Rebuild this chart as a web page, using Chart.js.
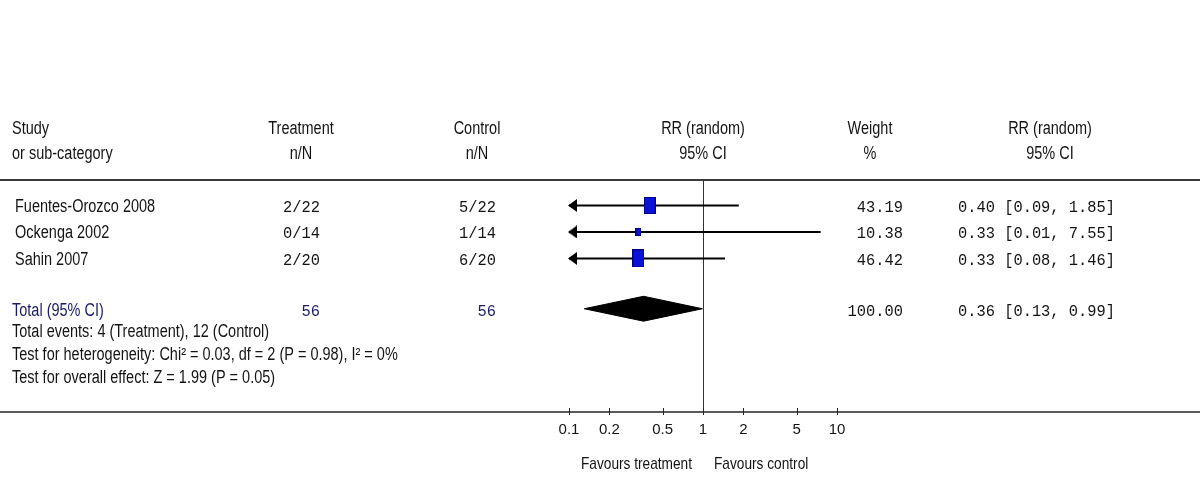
<!DOCTYPE html>
<html><head><meta charset="utf-8">
<script src="https://cdn.jsdelivr.net/npm/chart.js@4.4.0/dist/chart.umd.min.js"></script>
<style>html,body{margin:0;padding:0;background:#fff;}canvas{display:block;}</style>
</head><body>
<canvas id="c" width="1203" height="480"></canvas>
<script>
// ---------- data ----------
const studies = ['Fuentes-Orozco 2008', 'Ockenga 2002', 'Sahin 2007'];
const treatmentNN = ['2/22', '0/14', '2/20'];
const controlNN = ['5/22', '1/14', '6/20'];
const weights = [43.19, 10.38, 46.42];
const rr = [0.40, 0.33, 0.33];
const ciLow = [0.09, 0.01, 0.08];
const ciHigh = [1.85, 7.55, 1.46];
const totalLabel = 'Total (95% CI)';
const totalTreatment = '56';
const totalControl = '56';
const totalWeight = 100.00;
const totalRR = [0.36, 0.13, 0.99];   // estimate, lower, upper
const footnotes = [
  'Total events: 4 (Treatment), 12 (Control)',
  'Test for heterogeneity: Chi\u00B2 = 0.03, df = 2 (P = 0.98), I\u00B2 = 0%',
  'Test for overall effect: Z = 1.99 (P = 0.05)'
];
const headerTop = ['Study', 'Treatment', 'Control', 'RR (random)', 'Weight', 'RR (random)'];
const headerBottom = ['or sub-category', 'n/N', 'n/N', '95% CI', '%', '95% CI'];
const tickValues = [0.1, 0.2, 0.5, 1, 2, 5, 10];
const tickLabels = ['0.1', '0.2', '0.5', '1', '2', '5', '10'];
const favours = ['Favours treatment', 'Favours control'];

// ---------- layout / style ----------
const X_MIN = 0.1, X_MAX = 10;
const TOTAL_ROW = 4.9;
const DIAMOND_HALF = 0.47;
const SANS = '"Liberation Sans", Arial, sans-serif';
const MONO = '"Liberation Mono", "Courier New", monospace';
const TXT = '#141414';
const NAVY = '#1c1c66';

function fmt2(v) { return v.toFixed(2); }
function ciText(e, l, h) { return fmt2(e) + ' [' + fmt2(l) + ', ' + fmt2(h) + ']'; }

function boxImage(w) {
  const c = document.createElement('canvas');
  const bw = Math.max(4, Math.round(1.8 * Math.sqrt(w)));
  const bh = Math.max(6, Math.round(2.6 * Math.sqrt(w)));
  c.width = bw; c.height = bh;
  const g = c.getContext('2d');
  g.fillStyle = '#0b12d6';
  g.fillRect(0, 0, bw, bh);
  g.strokeStyle = '#00008a';
  g.lineWidth = 1;
  g.strokeRect(0.5, 0.5, bw - 1, bh - 1);
  return c;
}
function arrowImage() {
  const L = 10, H = 13;
  const c = document.createElement('canvas');
  c.width = 2 * L; c.height = H;
  const g = c.getContext('2d');
  g.fillStyle = '#000';
  g.beginPath();
  g.moveTo(L - 1, H / 2);
  g.lineTo(L + 8, 0);
  g.lineTo(L + 8, H);
  g.closePath();
  g.fill();
  return c;
}
const arrowImg = arrowImage();

const datasets = [];
// boxes (drawn on top)
datasets.push({
  type: 'scatter',
  data: rr.map((v, i) => ({ x: v, y: i + 1 })),
  pointStyle: weights.map(w => boxImage(w)),
  pointRadius: 5,
  order: 0,
  clip: false
});
// confidence interval lines
studies.forEach((s, i) => {
  const clippedLow = ciLow[i] < X_MIN;
  datasets.push({
    type: 'scatter',
    showLine: true,
    data: [{ x: Math.max(ciLow[i], X_MIN), y: i + 1 }, { x: Math.min(ciHigh[i], X_MAX), y: i + 1 }],
    borderColor: '#000',
    borderWidth: 2,
    pointStyle: ctx => (ctx.dataIndex === 0 && clippedLow) ? arrowImg : false,
    pointRadius: ctx => (ctx.dataIndex === 0 && clippedLow) ? 5 : 0,
    order: 1,
    clip: false
  });
});
// pooled diamond
datasets.push({
  type: 'scatter',
  showLine: true,
  data: [
    { x: totalRR[1], y: TOTAL_ROW },
    { x: totalRR[0], y: TOTAL_ROW - DIAMOND_HALF },
    { x: totalRR[2], y: TOTAL_ROW },
    { x: totalRR[0], y: TOTAL_ROW + DIAMOND_HALF },
    { x: totalRR[1], y: TOTAL_ROW }
  ],
  borderColor: '#000',
  backgroundColor: '#000',
  borderWidth: 1,
  fill: 'shape',
  tension: 0,
  pointRadius: 0,
  order: 1,
  clip: false
});

function drawText(ctx, s, x, y, align, font, color, sx, sy) {
  ctx.save();
  ctx.translate(x, y);
  ctx.scale(sx || 1, sy || 1);
  ctx.font = font;
  ctx.fillStyle = color;
  ctx.textAlign = align;
  ctx.textBaseline = 'alphabetic';
  ctx.fillText(s, 0, 0);
  ctx.restore();
}

const forestPlugin = {
  id: 'forest',
  beforeDatasetsDraw(chart) {
    const ctx = chart.ctx, xs = chart.scales.x, ys = chart.scales.y, a = chart.chartArea;
    ctx.save();
    // top separator
    ctx.strokeStyle = '#3a3a3a';
    ctx.lineWidth = 2;
    ctx.beginPath();
    ctx.moveTo(0, ys.getPixelForValue(0) + 1);
    ctx.lineTo(1200, ys.getPixelForValue(0) + 1);
    ctx.stroke();
    // axis line
    ctx.strokeStyle = '#222';
    ctx.lineWidth = 1.5;
    ctx.beginPath();
    ctx.moveTo(0, a.bottom);
    ctx.lineTo(1200, a.bottom);
    ctx.stroke();
    // line of no effect
    const x1 = Math.round(xs.getPixelForValue(1)) + 0.5;
    ctx.strokeStyle = '#333';
    ctx.lineWidth = 1;
    ctx.beginPath();
    ctx.moveTo(x1, ys.getPixelForValue(0) + 1);
    ctx.lineTo(x1, a.bottom);
    ctx.stroke();
    // tick marks
    ctx.strokeStyle = '#222';
    tickValues.forEach(v => {
      const px = Math.round(xs.getPixelForValue(v)) + 0.5;
      ctx.beginPath();
      ctx.moveTo(px, a.bottom - 4);
      ctx.lineTo(px, a.bottom + 3);
      ctx.stroke();
    });
    ctx.restore();
  },
  afterDraw(chart) {
    const ctx = chart.ctx, xs = chart.scales.x, ys = chart.scales.y;
    const sans = '18px ' + SANS, mono = '15.4px ' + MONO;
    const SX = 0.805, MSY = 1.12;
    const colX = [12, 301, 477, xs.getPixelForValue(1), 870, 1050];
    const colAlign = ['left', 'center', 'center', 'center', 'center', 'center'];
    headerTop.forEach((h, i) => drawText(ctx, h, colX[i], 134, colAlign[i], sans, TXT, SX, 1));
    headerBottom.forEach((h, i) => drawText(ctx, h, colX[i], 159, colAlign[i], sans, TXT, SX, 1));
    studies.forEach((s, i) => {
      const y = ys.getPixelForValue(i + 1) + 6.5;
      drawText(ctx, s, 15, y, 'left', sans, TXT, SX, 1);
      drawText(ctx, treatmentNN[i], 320, y, 'right', mono, TXT, 1, MSY);
      drawText(ctx, controlNN[i], 496, y, 'right', mono, TXT, 1, MSY);
      drawText(ctx, fmt2(weights[i]), 903, y, 'right', mono, TXT, 1, MSY);
      drawText(ctx, ciText(rr[i], ciLow[i], ciHigh[i]), 958, y, 'left', mono, TXT, 1, MSY);
    });
    const ty = ys.getPixelForValue(TOTAL_ROW) + 7;
    drawText(ctx, totalLabel, 12, ty, 'left', sans, NAVY, SX, 1);
    drawText(ctx, totalTreatment, 320, ty, 'right', mono, NAVY, 1, MSY);
    drawText(ctx, totalControl, 496, ty, 'right', mono, NAVY, 1, MSY);
    drawText(ctx, fmt2(totalWeight), 903, ty, 'right', mono, TXT, 1, MSY);
    drawText(ctx, ciText(totalRR[0], totalRR[1], totalRR[2]), 958, ty, 'left', mono, TXT, 1, MSY);
    footnotes.forEach((f, i) => drawText(ctx, f, 12, 337 + i * 23, 'left', sans, TXT, SX, 1));
    const x1 = xs.getPixelForValue(1);
    drawText(ctx, favours[0], x1 - 11, 469, 'right', '17px ' + SANS, TXT, SX, 1);
    drawText(ctx, favours[1], x1 + 11, 469, 'left', '17px ' + SANS, TXT, SX, 1);
  }
};

new Chart(document.getElementById('c'), {
  type: 'scatter',
  data: { datasets },
  options: {
    responsive: false,
    animation: false,
    events: [],
    layout: { padding: { left: 569, right: 366, top: 179, bottom: 32 } },
    plugins: { legend: { display: false }, tooltip: { enabled: false } },
    scales: {
      x: {
        type: 'logarithmic',
        min: X_MIN, max: X_MAX,
        position: 'bottom',
        grid: { display: false, drawTicks: false },
        border: { display: false },
        afterBuildTicks: s => { s.ticks = tickValues.map(v => ({ value: v })); },
        ticks: {
          autoSkip: false, maxRotation: 0, minRotation: 0, padding: 9,
          color: TXT,
          font: { family: SANS, size: 15 },
          callback: v => { const i = tickValues.indexOf(v); return i >= 0 ? tickLabels[i] : ''; }
        }
      },
      y: { type: 'linear', min: 0, max: 8.8, reverse: true, display: false }
    }
  },
  plugins: [forestPlugin]
});
</script>
</body></html>
